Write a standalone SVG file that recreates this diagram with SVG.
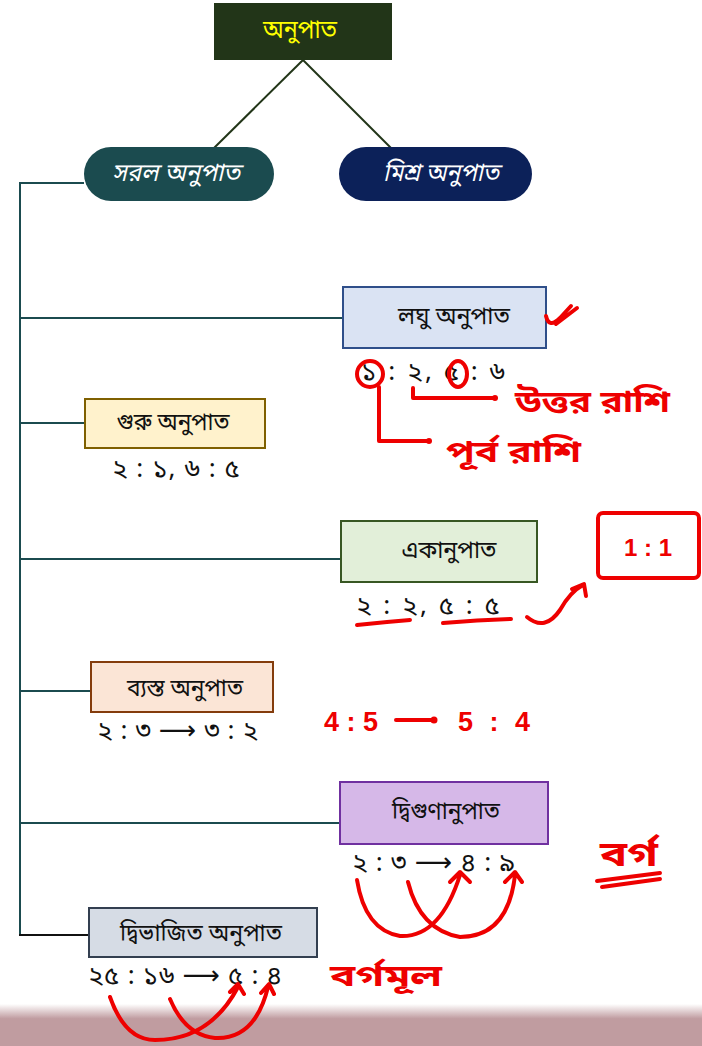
<svg xmlns="http://www.w3.org/2000/svg" width="702" height="1046" viewBox="0 0 702 1046">
<defs>
<linearGradient id="band" x1="0" y1="0" x2="0" y2="1">
<stop offset="0" stop-color="#ffffff"/>
<stop offset="0.35" stop-color="#c09ca0"/>
<stop offset="1" stop-color="#c09ca0"/>
</linearGradient>
<style>
.bn{font-family:"Noto Sans Bengali","Noto Serif Bengali","Noto Sans","DejaVu Sans",sans-serif;}
.lbl{font-size:24px;fill:#111;text-anchor:middle;dominant-baseline:central;}
.ratio{font-size:26px;fill:#111;}
.tree{stroke:#1b4b4f;stroke-width:2;fill:none;}
.red{stroke:#ee0000;fill:none;stroke-width:4;stroke-linecap:round;stroke-linejoin:round;}
.redt{fill:#ee0000;font-weight:bold;}
</style>
</defs>
<rect width="702" height="1046" fill="#ffffff"/>
<rect x="0" y="1004" width="702" height="42" fill="url(#band)"/>

<g id="connectors">
<line x1="303" y1="60" x2="214" y2="148" stroke="#223518" stroke-width="2"/>
<line x1="303" y1="60" x2="392" y2="149" stroke="#223518" stroke-width="2"/>
<polyline class="tree" points="84,183 20,183 20,935"/>
<line class="tree" x1="20" y1="318" x2="343" y2="318"/>
<line class="tree" x1="20" y1="423" x2="85" y2="423"/>
<line class="tree" x1="20" y1="559" x2="341" y2="559"/>
<line class="tree" x1="20" y1="691" x2="91" y2="691"/>
<line class="tree" x1="20" y1="823" x2="340" y2="823"/>
<line x1="19" y1="935" x2="89" y2="935" stroke="#111" stroke-width="2"/>
</g>

<g id="root">
<rect x="214" y="3" width="178" height="57" fill="#223518"/>
<text class="bn" x="300" y="31" font-size="25" fill="#ffff00" text-anchor="middle" dominant-baseline="central" textLength="74" lengthAdjust="spacingAndGlyphs">অনুপাত</text>
</g>

<g id="simple">
<rect x="84" y="147" width="190" height="54" rx="27" fill="#1b4b4f"/>
<text class="bn" x="176" y="174" font-size="25" fill="#ffffff" text-anchor="middle" dominant-baseline="central" font-style="italic" textLength="128" lengthAdjust="spacingAndGlyphs">সরল অনুপাত</text>
</g>

<g id="compound">
<rect x="339" y="147" width="193" height="54" rx="27" fill="#0c2159"/>
<text class="bn" x="441" y="174" font-size="25" fill="#ffffff" text-anchor="middle" dominant-baseline="central" font-style="italic" textLength="116" lengthAdjust="spacingAndGlyphs">মিশ্র অনুপাত</text>
</g>

<g id="lagu">
<rect x="343" y="287" width="203" height="61" fill="#dae3f3" stroke="#2f4f8a" stroke-width="2"/>
<text class="bn lbl" x="454" y="318" textLength="112" lengthAdjust="spacingAndGlyphs">লঘু অনুপাত</text>
<text class="bn ratio" x="361" y="380" textLength="144" lengthAdjust="spacing">১ : ২, ৫ : ৬</text>
</g>

<g id="guru">
<rect x="85" y="399" width="180" height="49" fill="#fff2cc" stroke="#7f6000" stroke-width="2"/>
<text class="bn lbl" x="173" y="424" textLength="113" lengthAdjust="spacingAndGlyphs">গুরু অনুপাত</text>
<text class="bn ratio" x="112" y="477" textLength="128" lengthAdjust="spacing">২ : ১,  ৬ : ৫</text>
</g>

<g id="eka">
<rect x="341" y="521" width="196" height="61" fill="#e2efd9" stroke="#385723" stroke-width="2"/>
<text class="bn lbl" x="449" y="552" textLength="95" lengthAdjust="spacingAndGlyphs">একানুপাত</text>
<text class="bn ratio" x="356" y="614" textLength="144" lengthAdjust="spacing">২ : ২,  ৫ : ৫</text>
</g>

<g id="byasta">
<rect x="91" y="662" width="182" height="50" fill="#fbe5d6" stroke="#843c0c" stroke-width="2"/>
<text class="bn lbl" x="185" y="690" textLength="116" lengthAdjust="spacingAndGlyphs">ব্যস্ত অনুপাত</text>
<text class="bn ratio" x="97" y="739" textLength="161" lengthAdjust="spacing">২ : ৩ ⟶ ৩ : ২</text>
</g>

<g id="dvigun">
<rect x="340" y="782" width="208" height="62" fill="#d6b8e8" stroke="#7030a0" stroke-width="2"/>
<text class="bn lbl" x="446" y="813" textLength="108" lengthAdjust="spacingAndGlyphs">দ্বিগুণানুপাত</text>
<text class="bn ratio" x="352" y="871" textLength="163" lengthAdjust="spacing">২ : ৩ ⟶ ৪ : ৯</text>
</g>

<g id="dvibhajit">
<rect x="89" y="908" width="228" height="49" fill="#d6dce5" stroke="#333f50" stroke-width="2"/>
<text class="bn lbl" x="201" y="935" textLength="162" lengthAdjust="spacingAndGlyphs">দ্বিভাজিত অনুপাত</text>
<text class="bn ratio" x="88" y="984" textLength="194" lengthAdjust="spacing">২৫ : ১৬ ⟶ ৫ : ৪</text>
</g>

<g id="annotations">
<path class="red" d="M546,316 Q549,329 560,318 L571,306 M556,324 L577,308"/>
<circle class="red" cx="370" cy="374" r="13"/>
<ellipse class="red" cx="458" cy="374" rx="9" ry="13"/>
<polyline class="red" points="413,388 413,398 493,398"/>
<circle cx="495" cy="398" r="3" fill="#ee0000"/>
<polyline class="red" points="379,387 379,441 428,441"/>
<circle cx="429" cy="441" r="3" fill="#ee0000"/>
<text class="bn redt" x="515" y="412" font-size="30" textLength="155" lengthAdjust="spacingAndGlyphs">উত্তর রাশি</text>
<text class="bn redt" x="446" y="462" font-size="30" textLength="135" lengthAdjust="spacingAndGlyphs">পূর্ব রাশি</text>
<rect class="red" x="598" y="513" width="101" height="65" rx="5"/>
<text class="redt" x="648" y="556" font-size="24" font-family="Liberation Sans, sans-serif" text-anchor="middle">1 : 1</text>
<path class="red" d="M357,625 Q385,622 410,620"/>
<path class="red" d="M443,623 Q478,620 511,619"/>
<path class="red" d="M527,617 Q545,632 560,610 Q570,592 583,585 M572,589 L584,584 L586,596"/>
<text class="redt" x="324" y="731" font-size="27" font-family="Liberation Sans, sans-serif">4 : 5</text>
<line class="red" x1="396" y1="720" x2="432" y2="720"/>
<circle cx="434" cy="720" r="3.5" fill="#ee0000"/>
<text class="redt" x="458" y="731" font-size="27" font-family="Liberation Sans, sans-serif" textLength="72" lengthAdjust="spacing">5 : 4</text>
<text class="bn redt" x="600" y="866" font-size="34" textLength="58" lengthAdjust="spacingAndGlyphs">বর্গ</text>
<path class="red" d="M597,881 L660,873 M602,887 L660,879"/>
<path class="red" d="M357,880 Q365,930 400,936 Q440,938 460,875 M450,882 L460,872 L470,882"/>
<path class="red" d="M408,882 Q420,930 460,937 Q508,937 515,875 M505,882 L515,872 L522,882"/>
<text class="bn redt" x="330" y="986" font-size="30" textLength="112" lengthAdjust="spacingAndGlyphs">বর্গমূল</text>
<path class="red" d="M110,997 Q125,1040 155,1040 Q210,1040 238,987 M230,992 L238,984 L244,994"/>
<path class="red" d="M170,999 Q185,1035 215,1038 Q255,1040 268,987 M261,993 L269,984 L274,994"/>
</g>
</svg>
